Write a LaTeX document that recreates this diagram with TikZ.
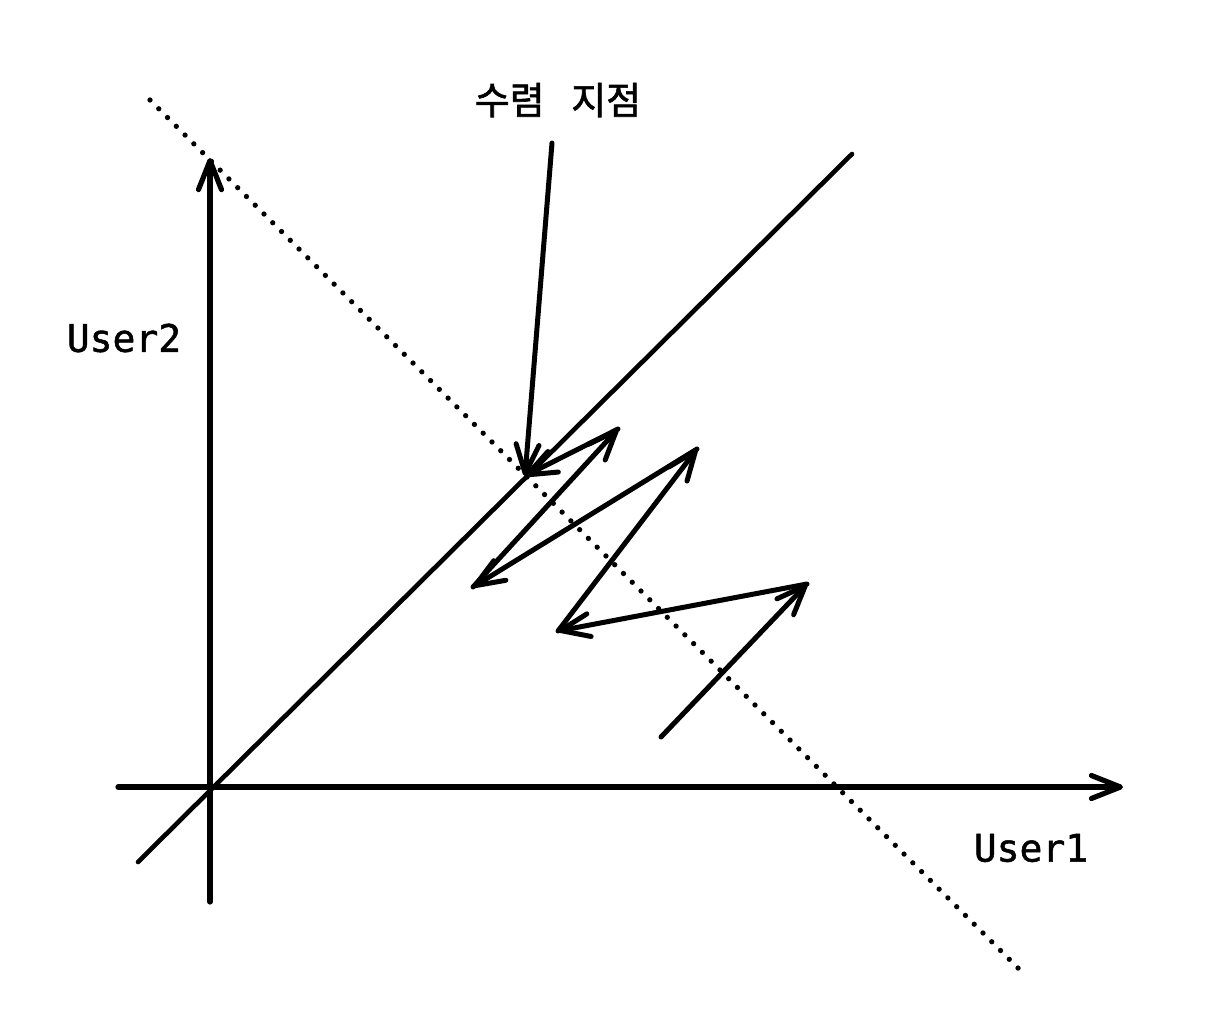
\documentclass[tikz,border=0pt]{standalone}
\usepackage{fontspec}
\newfontfamily\monob[FakeBold=1.3]{DejaVu Sans Mono}
\newfontfamily\kofont[FakeBold=1.6]{Noto Sans CJK KR}
\usetikzlibrary{arrows.meta}
\tikzset{
  vtip/.tip={Straight Barb[length=29pt,width=23pt,round]},
  axisline/.style={line width=5.2pt, line cap=round, -vtip},
  moveline/.style={line width=5pt, line cap=round, -vtip},
  diagline/.style={line width=4.6pt, line cap=round},
  dotline/.style={line width=5.3pt, line cap=round, dash pattern=on 0pt off 12.4pt},
  lbl/.style={font=\monob\fontsize{38}{40}\selectfont, inner sep=0pt},
  kolbl/.style={font=\kofont\fontsize{38}{42}\selectfont, inner sep=0pt}
}
\begin{document}
\begin{tikzpicture}[x=1pt,y=-1pt]
\useasboundingbox (0,0) rectangle (1210,1020);
% coordinates
\coordinate (ystart) at (210,902);
\coordinate (yend) at (210,158);
\coordinate (xstart) at (118,787);
\coordinate (xend) at (1123,787);
\coordinate (dA) at (138,862);
\coordinate (dB) at (852,154);
\coordinate (tA) at (150,100);
\coordinate (tB) at (1020,970);
\coordinate (p0) at (661,737);
\coordinate (p1) at (807,584);
\coordinate (p2) at (558,631);
\coordinate (p3) at (697,449);
\coordinate (p4) at (473,587);
\coordinate (p5) at (618,429);
\coordinate (cv) at (525,476);
\coordinate (ptr) at (552,143);
% dotted line
\draw[dotline] (tA) -- (tB);
% axes
\draw[axisline] (ystart) -- (yend);
\draw[axisline] (xstart) -- (xend);
% diagonal
\draw[diagline] (dA) -- (dB);
% labels
\node[lbl] (u2) at (124,338) {User2};
\node[lbl] (u1) at (1031,848) {User1};
\node[kolbl] (conv) at (558,100) {수렴\hspace{0.7em}지점};
% pointer
\draw[moveline] (ptr) -- (cv);
% zigzag
\draw[moveline] (p0) -- (p1);
\draw[moveline] (p1) -- (p2);
\draw[moveline] (p2) -- (p3);
\draw[moveline] (p3) -- (p4);
\draw[moveline] (p4) -- (p5);
\draw[moveline] (p5) -- (cv);
\end{tikzpicture}
\end{document}
